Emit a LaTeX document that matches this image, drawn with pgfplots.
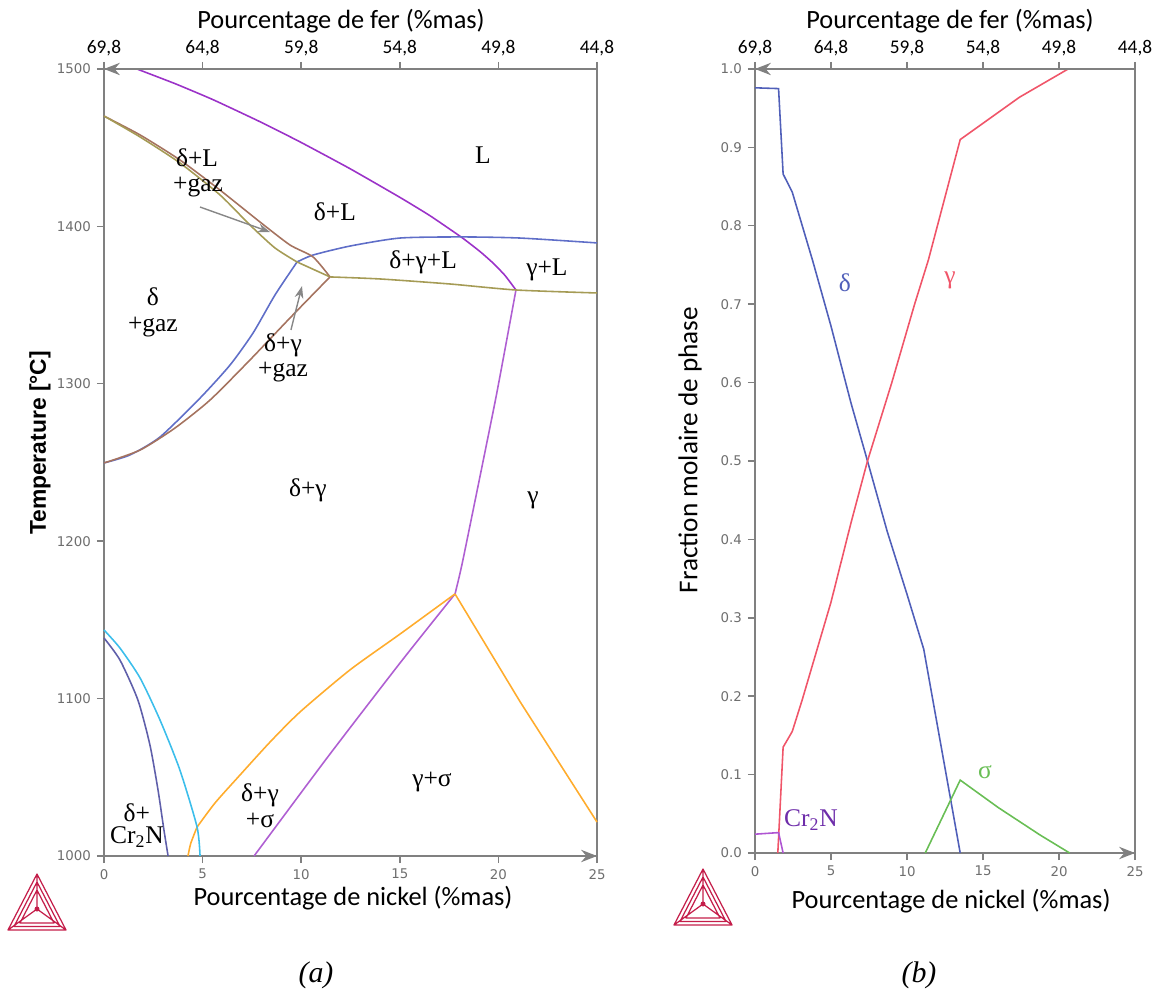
\documentclass[border=0pt]{standalone}
\usepackage{fontspec}
\setmainfont{Liberation Serif}
\newfontfamily\carl{Carlito}
\newfontfamily\dejavu{DejaVu Sans}
\newfontfamily\arialf{Liberation Sans}
\usepackage{pgfplots}
\pgfplotsset{compat=1.18}
\usetikzlibrary{arrows.meta}

\definecolor{axgray}{RGB}{128,128,128}
\definecolor{tickgray}{RGB}{110,110,110}
\definecolor{liqpurple}{RGB}{155,50,200}
\definecolor{lowpurple}{RGB}{175,95,210}
\definecolor{orangeL}{RGB}{255,172,45}
\definecolor{cyanL}{RGB}{60,190,235}
\definecolor{slateL}{RGB}{95,95,170}
\definecolor{blueL}{RGB}{95,110,200}
\definecolor{brownL}{RGB}{165,115,95}
\definecolor{oliveL}{RGB}{165,155,85}
\definecolor{arrowgray}{RGB}{135,135,135}
\definecolor{deltaB}{RGB}{80,95,185}
\definecolor{gammaR}{RGB}{240,85,105}
\definecolor{sigmaG}{RGB}{105,190,85}
\definecolor{crnP}{RGB}{175,85,210}
\definecolor{crnT}{RGB}{110,45,170}
\definecolor{logoC}{RGB}{196,30,74}

\tikzset{
  rl/.style={font=\fontsize{14.5}{15.5}\selectfont, inner sep=0pt, anchor=center},
  logo/.pic={
    \draw[logoC, line width=0.7pt, line join=round]
      (-0.58,-0.5) -- (0.58,-0.5) -- (0,0.62) -- cycle
      (-0.46,-0.43) -- (0.46,-0.43) -- (0,0.46) -- cycle
      (-0.34,-0.36) -- (0.34,-0.36) -- (0,0.30) -- cycle
      (-0.58,-0.5) -- (0,-0.08) -- (0.58,-0.5)
      (0,0.62) -- (0,-0.08);
    \fill[logoC] (0,-0.08) circle (0.05);
  }
}

\pgfplotsset{
  myframe/.style={
    scale only axis, anchor=south west, clip=false,
    axis line style={draw=axgray, line width=1.1pt},
    tick style={draw=axgray, line width=0.8pt},
    tick align=outside, major tick length=4pt,
    ticklabel style={font=\dejavu\fontsize{7.6}{9}\selectfont, text=tickgray},
  },
  topframe/.style={
    scale only axis, anchor=south west,
    axis x line*=top, axis y line=none,
    x axis line style={draw=axgray, line width=1.1pt, {Stealth[length=9pt,width=7pt]}-},
    tick style={draw=axgray, line width=0.8pt},
    tick align=outside, major tick length=4pt,
    xmin=0, xmax=25, ymin=0, ymax=1,
    xtick={0,5,...,25},
    xticklabels={{69,8},{64,8},{59,8},{54,8},{49,8},{44,8}},
    xticklabel style={font=\carl\fontsize{11}{12}\selectfont, text=black},
  },
  lw/.style={line width=0.9pt, mark=none},
}

\begin{document}
\begin{tikzpicture}

% ================= (a) phase diagram =================
\begin{axis}[myframe,
  at={(2.08cm,2.88cm)}, width=9.86cm, height=15.74cm,
  xmin=0, xmax=25, ymin=1000, ymax=1500,
  tick pos=left,
  xtick={0,5,...,25}, xticklabels={0,5,10,15,20,25},
  ytick={1000,1100,...,1500}, yticklabels={1000,1100,1200,1300,1400,1500},
]
% liquidus
\addplot[lw, liqpurple, smooth, tension=0.3] coordinates {
 (1.67,1500) (3.60,1490.7) (5.53,1480.5) (7.91,1466.5) (9.94,1453.7) (12.47,1436.7) (15.01,1418.4)
 (16.53,1406.8) (18.15,1392.9) (19.07,1384.0) (19.73,1376.7) (20.33,1368.9) (20.89,1359.6)};
% gamma solvus (upper)
\addplot[lw, lowpurple, smooth, tension=0.3] coordinates {
 (20.89,1359.6) (19.85,1289.7) (18.20,1188.0) (17.80,1166.5)};
% gamma / gamma+sigma lower purple
\addplot[lw, lowpurple, smooth, tension=0.4] coordinates {
 (17.80,1166.5) (15.01,1122.6) (11.31,1062.3) (7.61,1000)};
% orange sigma boundaries
\addplot[lw, orangeL] coordinates {(17.80,1166.5) (21.10,1098) (25,1021.6)};
\addplot[lw, orangeL, smooth, tension=0.4] coordinates {
 (17.80,1166.5) (15.01,1141.0) (12.47,1118.2) (9.94,1091.5) (8.42,1072.4) (6.90,1051.5) (5.63,1033.7) (4.72,1018.4)};
\addplot[lw, orangeL, smooth, tension=0.5] coordinates {
 (4.72,1018.4) (4.40,1008) (4.26,1000)};
% cyan
\addplot[lw, cyanL, smooth, tension=0.4] coordinates {
 (0,1143.6) (0.81,1132.1) (1.83,1113.1) (2.84,1086.4) (3.85,1054.6) (4.72,1018.4) (4.87,1000)};
% slate
\addplot[lw, slateL, smooth, tension=0.4] coordinates {
 (0,1138.5) (0.81,1124.5) (1.72,1099.1) (2.33,1070.5) (2.74,1041.9) (3.04,1016.5) (3.25,1000)};
% blue delta boundary
\addplot[lw, blueL, smooth, tension=0.4] coordinates {
 (0,1249.7) (1.32,1254.8) (2.84,1266.2) (4.87,1290.9) (6.39,1311.9) (7.56,1332.3) (8.67,1356.4) (9.79,1377.4)};
\addplot[lw, blueL, smooth, tension=0.4] coordinates {
 (9.79,1377.4) (10.60,1381.8) (12.47,1387.5) (15.01,1392.6) (18.15,1393.3) (21.10,1392.6) (25,1389.5)};
% brown upper
\addplot[lw, brownL, smooth, tension=0.4] coordinates {
 (0,1470.1) (1.83,1458.1) (3.85,1442.2) (5.88,1423.1) (7.91,1402.8) (9.43,1388.2) (10.60,1380.6) (11.46,1367.9)};
% olive upper
\addplot[lw, oliveL, smooth, tension=0.4] coordinates {
 (0,1470.1) (1.83,1456.8) (3.85,1440.3) (5.88,1420.0) (7.40,1400.9) (8.67,1386.3) (9.79,1377.4)};
\addplot[lw, oliveL] coordinates {(9.79,1377.4) (11.46,1367.9)};
% olive horizontal
\addplot[lw, oliveL, smooth, tension=0.4] coordinates {
 (11.46,1367.9) (14.0,1366.6) (17.55,1363.4) (20.89,1359.6) (25,1357.7)};
% brown lower
\addplot[lw, brownL, smooth, tension=0.4] coordinates {
 (11.46,1367.9) (9.43,1341.8) (7.40,1315.1) (5.38,1289.7) (3.60,1271.9) (1.83,1257.9) (0,1249.7)};

% annotation arrows
\draw[arrowgray, line width=0.8pt, -{Stealth[length=7pt,width=5pt]}] (axis cs:4.87,1412.3) -- (axis cs:8.42,1396.4);
\draw[arrowgray, line width=0.8pt, -{Stealth[length=7pt,width=5pt]}] (axis cs:9.48,1334.2) -- (axis cs:10.04,1362.1);

% region labels
\node[rl] at (axis cs:19.22,1445.4) {L};
\node[rl] at (axis cs:4.72,1443.5) {δ+L};
\node[rl] at (axis cs:4.77,1425.0) {+gaz};
\node[rl] at (axis cs:11.71,1409.1) {δ+L};
\node[rl] at (axis cs:16.18,1377.4) {δ+γ+L};
\node[rl] at (axis cs:22.46,1372.3) {γ+L};
\node[rl] at (axis cs:2.48,1355.1) {δ};
\node[rl] at (axis cs:2.48,1336.1) {+gaz};
\node[rl] at (axis cs:9.08,1324.7) {δ+γ};
\node[rl] at (axis cs:9.08,1307.5) {+gaz};
\node[rl] at (axis cs:10.34,1232.5) {δ+γ};
\node[rl] at (axis cs:21.75,1226.2) {γ};
\node[rl] at (axis cs:16.63,1047.0) {γ+σ};
\node[rl] at (axis cs:7.91,1038.8) {δ+γ};
\node[rl] at (axis cs:7.91,1022.9) {+σ};
\node[rl] at (axis cs:1.67,1027.3) {δ+};
\node[rl] at (axis cs:1.67,1012.1) {Cr\textsubscript{2}N};

% bottom axis arrow
\draw[axgray, line width=1.1pt, -{Stealth[length=9pt,width=7pt]}] (rel axis cs:0.9,0) -- (rel axis cs:1,0);
\end{axis}

\begin{axis}[topframe, at={(2.08cm,2.88cm)}, width=9.86cm, height=15.74cm]
\end{axis}

% ================= (b) phase fractions =================
\begin{axis}[myframe,
  at={(15.10cm,2.94cm)}, width=7.60cm, height=15.68cm,
  xmin=0, xmax=25, ymin=0, ymax=1,
  tick pos=left,
  xtick={0,5,...,25}, xticklabels={0,5,10,15,20,25},
  ytick={0,0.1,...,1.0}, yticklabels={0.0,0.1,0.2,0.3,0.4,0.5,0.6,0.7,0.8,0.9,1.0},
]
% delta
\addplot[lw, deltaB] coordinates {
 (0,0.976) (1.55,0.975) (1.85,0.866) (2.45,0.843) (3.8,0.755) (5.0,0.672) (6.3,0.575) (7.4,0.5) (8.7,0.41) (10.0,0.33) (11.1,0.26) (13.5,0.0)};
% gamma
\addplot[lw, gammaR] coordinates {
 (1.5,0) (1.85,0.135) (2.45,0.155) (3.1,0.195) (5.0,0.32) (6.3,0.42) (7.4,0.5) (9.0,0.6) (10.5,0.70) (11.4,0.756) (13.5,0.91) (17.4,0.964) (20.6,1.0)};
% Cr2N
\addplot[lw, crnP] coordinates {(0,0.024) (1.55,0.026) (1.85,0)};
% sigma
\addplot[lw, sigmaG] coordinates {(11.2,0) (13.5,0.093) (16.0,0.058) (18.75,0.023) (20.7,0)};

\node[rl, text=deltaB] at (axis cs:5.92,0.727) {δ};
\node[rl, text=gammaR] at (axis cs:12.83,0.731) {γ};
\node[rl, text=sigmaG] at (axis cs:15.13,0.103) {σ};
\node[rl, text=crnT] at (axis cs:3.68,0.042) {Cr\textsubscript{2}N};

\draw[axgray, line width=1.1pt, -{Stealth[length=9pt,width=7pt]}] (rel axis cs:0.9,0) -- (rel axis cs:1,0);
\end{axis}

\begin{axis}[topframe, at={(15.10cm,2.94cm)}, width=7.60cm, height=15.68cm]
\end{axis}

% ================= titles =================
\node[font=\carl\fontsize{15}{17}\selectfont] at (6.82cm,19.58cm) {Pourcentage de fer (\%mas)};
\node[font=\carl\fontsize{15}{17}\selectfont] at (19.0cm,19.58cm) {Pourcentage de fer (\%mas)};
\node[font=\carl\fontsize{15}{17}\selectfont] at (7.06cm,2.04cm) {Pourcentage de nickel (\%mas)};
\node[font=\carl\fontsize{15}{17}\selectfont] at (19.02cm,1.98cm) {Pourcentage de nickel (\%mas)};
\node[font=\arialf\bfseries\fontsize{13}{15}\selectfont, rotate=90] at (0.8cm,11.14cm) {Temperature [°C]};
\node[font=\carl\fontsize{15.5}{17}\selectfont, rotate=90] at (13.8cm,11.0cm) {Fraction molaire de phase};
\node[font=\itshape\fontsize{17}{19}\selectfont] at (6.32cm,0.5cm) {(a)};
\node[font=\itshape\fontsize{17}{19}\selectfont] at (18.38cm,0.5cm) {(b)};

% logos
\pic at (0.74cm,1.9cm) {logo};
\pic at (14.06cm,2.0cm) {logo};

\pgfresetboundingbox
\path[use as bounding box] (0,0) rectangle (23.3cm,20cm);
\end{tikzpicture}
\end{document}
